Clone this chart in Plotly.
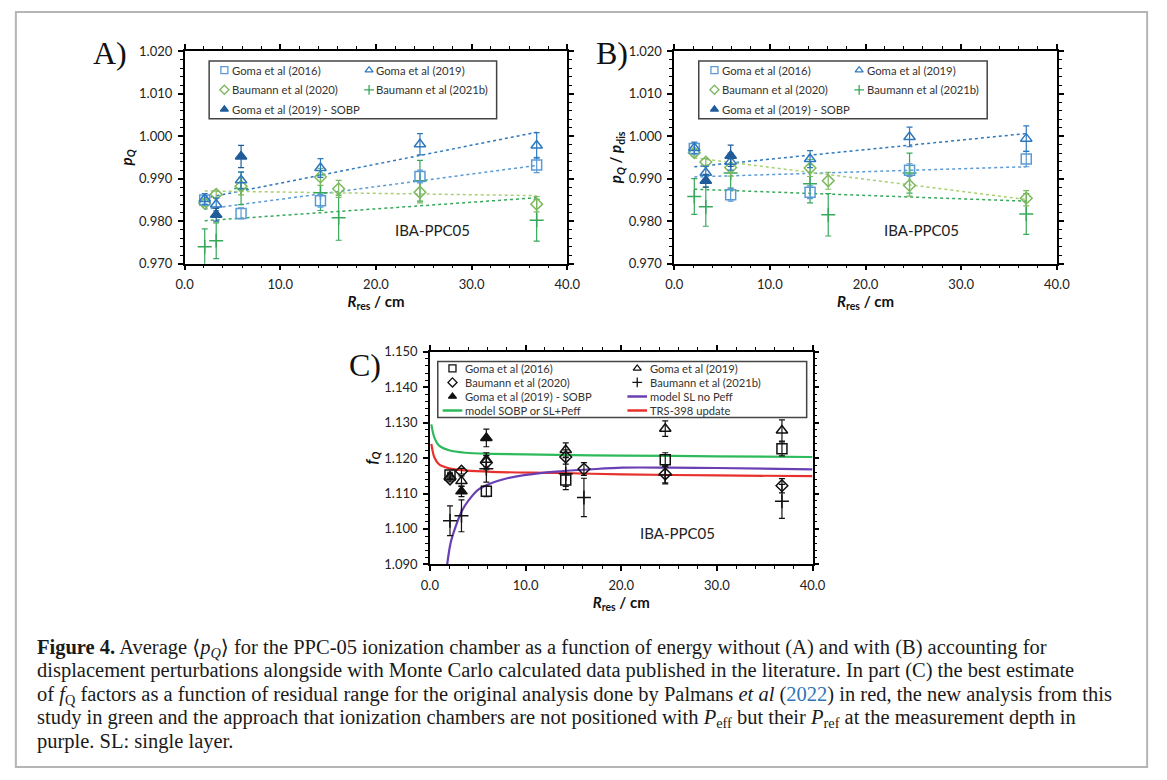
import plotly.graph_objects as go

W, H = 1167, 780

# ---------------- data ----------------
R_G16 = [2.1, 5.9, 14.2, 24.6, 36.8]
R_G19 = [2.1, 3.3, 5.9, 14.2, 24.6, 36.8]
R_SOBP = [3.3, 5.9]
R_B20 = [2.1, 3.3, 5.9, 14.2, 16.1, 24.6, 36.8]
R_B21 = [2.1, 3.3, 5.9, 14.2, 16.1, 24.6, 36.8]
TREND_R = [2.1, 36.8]

# Panel A : pQ
A_G16 = [0.9850, 0.9818, 0.9848, 0.9905, 0.9932]
A_G16_err = [0.0010, 0.0013, 0.0015, 0.0015, 0.0018]
A_G19 = [0.9852, 0.9839, 0.9896, 0.9925, 0.9981, 0.9978]
A_G19_err = [0.0013, 0.0015, 0.0020, 0.0022, 0.0025, 0.0030]
A_SOBP = [0.9815, 0.9952]
A_SOBP_err = [0.0015, 0.0026]
A_B20 = [0.9842, 0.9863, 0.9882, 0.9904, 0.9876, 0.9868, 0.9840]
A_B20_err = [0.0008, 0.0008, 0.0020, 0.0020, 0.0020, 0.0025, 0.0018]
A_B21 = [0.9740, 0.9754, 0.9877, 0.9867, 0.9808, 0.9895, 0.9802]
A_B21_err = [0.0042, 0.0042, 0.0038, 0.0042, 0.0053, 0.0048, 0.0049]
A_trend_G19 = [0.9854, 1.0009]
A_trend_G16 = [0.9828, 0.9931]
A_trend_B20 = [0.9871, 0.9860]
A_trend_B21 = [0.9801, 0.9855]

# Panel B : pQ / pdis
B_G16 = [0.9971, 0.9862, 0.9868, 0.9920, 0.9946]
B_G16_err = [0.0012, 0.0015, 0.0015, 0.0015, 0.0018]
B_G19 = [0.9972, 0.9914, 0.9940, 0.9946, 0.9998, 0.9994]
B_G19_err = [0.0014, 0.0015, 0.0020, 0.0020, 0.0023, 0.0030]
B_SOBP = [0.9895, 0.9954]
B_SOBP_err = [0.0015, 0.0025]
B_B20 = [0.9961, 0.9939, 0.9926, 0.9925, 0.9895, 0.9884, 0.9854]
B_B20_err = [0.0008, 0.0008, 0.0020, 0.0020, 0.0020, 0.0025, 0.0018]
B_B21 = [0.9858, 0.9834, 0.9913, 0.9888, 0.9815, 0.9913, 0.9817]
B_B21_err = [0.0042, 0.0046, 0.0035, 0.0045, 0.0050, 0.0047, 0.0048]
B_trend_G19 = [0.9928, 1.0006]
B_trend_G16 = [0.9904, 0.9928]
B_trend_B20 = [0.9949, 0.9851]
B_trend_B21 = [0.9875, 0.9847]

# Panel C : fQ
C_G16 = [1.1152, 1.1106, 1.1138, 1.1195, 1.1226]
C_G16_err = [0.0008, 0.0015, 0.0018, 0.0020, 0.0020]
C_G19 = [1.1148, 1.1135, 1.1195, 1.1223, 1.1283, 1.1278]
C_G19_err = [0.0008, 0.0015, 0.0020, 0.0020, 0.0022, 0.0030]
C_SOBP = [1.1106, 1.1257]
C_SOBP_err = [0.0015, 0.0025]
C_B20 = [1.1141, 1.1163, 1.1187, 1.1203, 1.1169, 1.1155, 1.1122]
C_B20_err = [0.0008, 0.0008, 0.0020, 0.0020, 0.0018, 0.0025, 0.0020]
C_B21 = [1.1023, 1.1037, 1.1170, 1.1156, 1.1089, 1.1152, 1.1078]
C_B21_err = [0.0042, 0.0045, 0.0038, 0.0045, 0.0054, 0.0025, 0.0048]

R_MODEL = [0.15, 0.45, 0.96, 2.0, 3.7, 6.4, 13.2, 20.1, 30.0, 40.0]
C_green = [1.1295, 1.1259, 1.1235, 1.1222, 1.1215, 1.1212, 1.1209, 1.1207, 1.1205, 1.1203]
C_red = [1.1240, 1.1203, 1.1182, 1.1171, 1.1165, 1.1161, 1.1158, 1.1154, 1.1151, 1.1149]
R_PURPLE = [1.8, 2.15, 2.67, 3.35, 4.0, 5.06, 6.4, 8.1, 9.85, 13.2, 16.7, 20.1, 25.0, 30.0, 40.0]
C_purple = [1.0899, 1.0959, 1.1005, 1.1051, 1.1079, 1.1111, 1.1129, 1.1143, 1.1152,
            1.1162, 1.1168, 1.1173, 1.1173, 1.1172, 1.1168]

LABELS = ["Goma et al (2016)", "Goma et al (2019)", "Baumann et al (2020)",
          "Baumann et al (2021b)", "Goma et al (2019) - SOBP"]
MODEL_LABELS = ["model SL no Peff", "model SOBP or SL+Peff", "TRS-398 update"]

CAPTION_LINES = [
    "<b>Figure 4.</b> Average \u27e8<i>p</i><sub><i>Q</i></sub>\u27e9 for the PPC-05 ionization chamber as a "
    "function of energy without (A) and with (B) accounting for",
    "displacement perturbations alongside with Monte Carlo calculated data published in the literature. "
    "In part (C) the best estimate",
    "of <i>f</i><sub>Q</sub> factors as a function of residual range for the original analysis done by "
    "Palmans <i>et al</i> (<span style='color:#2F75B5'>2022</span>) in red, the new analysis from this",
    "study in green and the approach that ionization chambers are not positioned with "
    "<i>P</i><sub>eff</sub> but their <i>P</i><sub>ref</sub> at the measurement depth in",
    "purple. SL: single layer.",
]

# ---------------- styling ----------------
C16, C19, CSOBP, CB20, CB21 = "#5B9BD5", "#2E78BE", "#1F5C99", "#7DB85F", "#36A85A"
CT20 = "#A9CF72"
GREEN, RED, PURPLE = "#2DBA5A", "#E8312C", "#6A3FB4"
SANS = "Lato, 'Open Sans', sans-serif"
SERIF = "'Liberation Serif', 'DejaVu Serif', serif"


def px(x):
    return x / W


def py(y):
    return 1 - y / H


fig = go.Figure()
layout = {}
shapes = []
annotations = []

panels = [
    dict(lbl="A)", ax=1, ov=2, xpx=(179, 569), ypx=(44, 261), yr=(0.970, 1.020), dy=0.010, mdy=0.002,
         yt="<b><i>p</i><sub><i>Q</i></sub></b>", lblpos=(84, 46), iba=0.0079),
    dict(lbl="B)", ax=3, ov=4, xpx=(678, 1068), ypx=(44, 261), yr=(0.970, 1.020), dy=0.010, mdy=0.002,
         yt="<b><i>p</i><sub><i>Q</i></sub> / <i>p</i><sub>dis</sub></b>", lblpos=(596, 46), iba=0.0079),
    dict(lbl="C)", ax=5, ov=6, xpx=(429, 819), ypx=(351, 568), yr=(1.090, 1.150), dy=0.010, mdy=0.002,
         yt="<b><i>f</i><sub><i>Q</i></sub></b>", lblpos=(344, 364), iba=0.0088),
]


def axname(n, kind):
    return kind if n == 1 else f"{kind}{n}"


tickfont = dict(family=SANS, size=13, color="#222")
titlefont = dict(family=SANS, size=15, color="#111")

for p in panels:
    n, o = p["ax"], p["ov"]
    xd = [px(p["xpx"][0]), px(p["xpx"][1])]
    yd = [py(p["ypx"][1]), py(p["ypx"][0])]
    layout[axname(n, "xaxis")] = dict(
        domain=xd, range=[0, 40], anchor=axname(n, "y"), dtick=10, tick0=0, tickformat=".1f",
        ticks="outside", ticklen=5, tickwidth=1.5, tickcolor="black", showline=True,
        linecolor="black", linewidth=1.5, mirror="ticks", showgrid=False, zeroline=False,
        minor=dict(dtick=2, tick0=0, ticks="outside", ticklen=3, tickwidth=1, tickcolor="black", showgrid=False),
        tickfont=tickfont, ticklabelstandoff=3,
        title=dict(text="<b><i>R</i><sub>res</sub> / cm</b>", font=titlefont, standoff=2),
        fixedrange=True)
    layout[axname(n, "yaxis")] = dict(
        domain=yd, range=list(p["yr"]), anchor=axname(n, "x"), dtick=p["dy"], tick0=p["yr"][0],
        tickformat=".3f", ticks="outside", ticklen=5, tickwidth=1.5, tickcolor="black", showline=True,
        linecolor="black", linewidth=1.5, mirror="ticks", showgrid=False, zeroline=False,
        minor=dict(dtick=p["mdy"], tick0=p["yr"][0], ticks="outside", ticklen=3, tickwidth=1,
                   tickcolor="black", showgrid=False),
        tickfont=tickfont, ticklabelstandoff=3,
        title=dict(text=p["yt"], font=titlefont, standoff=3), fixedrange=True)
    # overlay axes for the inward half of the crossing major ticks
    layout[axname(o, "xaxis")] = dict(
        overlaying=axname(n, "x"), anchor=axname(n, "y"), range=[0, 40], dtick=10, tick0=0,
        ticks="inside", ticklen=5, tickwidth=1.5, tickcolor="black", mirror="ticks",
        showticklabels=False, showline=False, showgrid=False, zeroline=False, fixedrange=True)
    layout[axname(o, "yaxis")] = dict(
        overlaying=axname(n, "y"), anchor=axname(n, "x"), range=list(p["yr"]), dtick=p["dy"],
        tick0=p["yr"][0], ticks="inside", ticklen=5, tickwidth=1.5, tickcolor="black", mirror="ticks",
        showticklabels=False, showline=False, showgrid=False, zeroline=False, fixedrange=True)
    annotations.append(dict(x=px(p["lblpos"][0]), y=py(p["lblpos"][1]), xref="paper", yref="paper",
                            text=p["lbl"], showarrow=False, xanchor="left", yanchor="middle",
                            font=dict(family=SERIF, size=32, color="#111")))
    annotations.append(dict(x=25.9, y=p["yr"][0] + p["iba"],
                            xref=axname(n, "x"), yref=axname(n, "y"), text="IBA-PPC05", showarrow=False,
                            xanchor="center", yanchor="middle",
                            font=dict(family=SANS, size=15, color="#222")))


def scat(x, y, err, sym, col, n, size=10):
    mk = dict(symbol=sym, size=size, color=col, line=dict(color=col, width=1.5))
    return go.Scatter(x=x, y=y, mode="markers", marker=mk,
                      error_y=dict(type="data", array=err, color=col, thickness=1.2, width=3),
                      xaxis=axname(n, "x"), yaxis=axname(n, "y"), showlegend=False, hoverinfo="skip")


def trend(y, col, n):
    return go.Scatter(x=TREND_R, y=y, mode="lines", line=dict(color=col, width=1.5, dash="dot"),
                      xaxis=axname(n, "x"), yaxis=axname(n, "y"), showlegend=False, hoverinfo="skip")


# Panels A and B
for n, d in [(1, dict(G16=A_G16, G16e=A_G16_err, G19=A_G19, G19e=A_G19_err, S=A_SOBP, Se=A_SOBP_err,
                      B20=A_B20, B20e=A_B20_err, B21=A_B21, B21e=A_B21_err,
                      t19=A_trend_G19, t16=A_trend_G16, t20=A_trend_B20, t21=A_trend_B21)),
             (3, dict(G16=B_G16, G16e=B_G16_err, G19=B_G19, G19e=B_G19_err, S=B_SOBP, Se=B_SOBP_err,
                      B20=B_B20, B20e=B_B20_err, B21=B_B21, B21e=B_B21_err,
                      t19=B_trend_G19, t16=B_trend_G16, t20=B_trend_B20, t21=B_trend_B21))]:
    fig.add_trace(trend(d["t19"], C19, n))
    fig.add_trace(trend(d["t16"], C16, n))
    fig.add_trace(trend(d["t20"], CT20, n))
    fig.add_trace(trend(d["t21"], CB21, n))
    fig.add_trace(scat(R_B21, d["B21"], d["B21e"], "cross-thin-open", CB21, n, size=10))
    fig.add_trace(scat(R_B20, d["B20"], d["B20e"], "diamond-open", CB20, n, size=9))
    fig.add_trace(scat(R_G16, d["G16"], d["G16e"], "square-open", C16, n, size=10))
    fig.add_trace(scat(R_G19, d["G19"], d["G19e"], "triangle-up-open", C19, n, size=10))
    fig.add_trace(scat(R_SOBP, d["S"], d["Se"], "triangle-up", CSOBP, n, size=10))

# Panel C
for xs, ys, col in [(R_MODEL, C_green, GREEN), (R_MODEL, C_red, RED), (R_PURPLE, C_purple, PURPLE)]:
    fig.add_trace(go.Scatter(x=xs, y=ys, mode="lines",
                             line=dict(color=col, width=2.2, shape="spline", smoothing=0.8),
                             xaxis="x5", yaxis="y5", showlegend=False, hoverinfo="skip"))
K = "#111"
fig.add_trace(scat(R_B21, C_B21, C_B21_err, "cross-thin-open", K, 5, size=10))
fig.add_trace(scat(R_B20, C_B20, C_B20_err, "diamond-open", K, 5, size=9))
fig.add_trace(scat(R_G16, C_G16, C_G16_err, "square-open", K, 5, size=10))
fig.add_trace(scat(R_G19, C_G19, C_G19_err, "triangle-up-open", K, 5, size=10))
fig.add_trace(scat(R_SOBP, C_SOBP, C_SOBP_err, "triangle-up", K, 5, size=10))

# ---------------- legends (boxes with two columns of keys) ----------------
SYMS = ["square-open", "triangle-up-open", "diamond-open", "cross-thin-open", "triangle-up"]


def add_legend(n, box, m0, colgap, row0, rowgap, txtoff, entries, fsize, msize):
    bx0, by0, bx1, by1 = box
    layout[f"xaxis{n}"] = dict(domain=[px(bx0), px(bx1)], range=[0, bx1 - bx0], visible=False,
                               showticklabels=False, anchor=f"y{n}", fixedrange=True)
    layout[f"yaxis{n}"] = dict(domain=[py(by1), py(by0)], range=[by1 - by0, 0], visible=False,
                               showticklabels=False, anchor=f"x{n}", fixedrange=True)
    shapes.append(dict(type="rect", xref="paper", yref="paper", x0=px(bx0), x1=px(bx1),
                       y0=py(by1), y1=py(by0), line=dict(color="#444", width=1.5)))
    for i, (label, sym, col) in enumerate(entries):
        r, c = divmod(i, 2)
        cx = m0 + c * colgap
        cy = row0 + r * rowgap
        if sym == "line":
            fig.add_trace(go.Scatter(x=[cx - 10, cx + 10], y=[cy, cy], mode="lines",
                                     line=dict(color=col, width=2.5), xaxis=f"x{n}", yaxis=f"y{n}",
                                     showlegend=False, hoverinfo="skip"))
        else:
            fig.add_trace(go.Scatter(x=[cx], y=[cy], mode="markers",
                                     marker=dict(symbol=sym, size=msize, color=col,
                                                 line=dict(color=col, width=1.3)),
                                     xaxis=f"x{n}", yaxis=f"y{n}", showlegend=False, hoverinfo="skip"))
        annotations.append(dict(x=cx + txtoff, y=cy, xref=f"x{n}", yref=f"y{n}", text=label,
                                showarrow=False, xanchor="left", yanchor="middle",
                                font=dict(family=SANS, size=fsize, color="#333")))


ab_cols = [C16, C19, CB20, CB21, CSOBP]
ab_entries = list(zip(LABELS, SYMS, ab_cols))
add_legend(7, (204, 54, 497, 113), 15.5, 147.5, 9.5, 20, 5.5, ab_entries, 11.3, 7)
add_legend(8, (703, 54, 997, 113), 16, 147.5, 9.5, 20, 5.5, ab_entries, 11.3, 7)
c_entries = list(zip(LABELS, SYMS, [K] * 5)) + [
    (MODEL_LABELS[0], "line", PURPLE), (MODEL_LABELS[1], "line", GREEN), (MODEL_LABELS[2], "line", RED)]
add_legend(9, (437, 361, 813, 418), 15, 188.3, 7, 14.3, 11, c_entries, 11.2, 7)

# ---------------- caption and border ----------------
for i, line in enumerate(CAPTION_LINES):
    annotations.append(dict(x=px(27), y=py(639 + 24 * i), xref="paper", yref="paper", text=line,
                            showarrow=False, xanchor="left", yanchor="top", align="left",
                            font=dict(family=SERIF, size=20.5, color="#1a1a1a")))
shapes.append(dict(type="rect", xref="paper", yref="paper", x0=px(7), x1=px(1160), y0=py(775), y1=py(4),
                   line=dict(color="#b5b5b5", width=2)))

fig.update_layout(width=W, height=H, margin=dict(l=0, r=0, t=0, b=0), paper_bgcolor="white",
                  plot_bgcolor="white", showlegend=False, shapes=shapes, annotations=annotations,
                  **layout)
fig.write_html("out.html")
